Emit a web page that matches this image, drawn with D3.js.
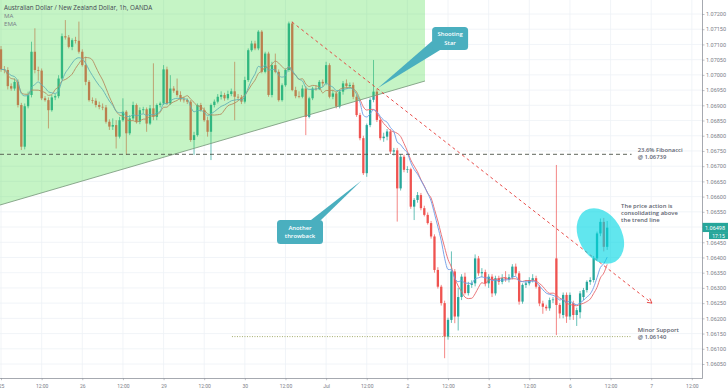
<!DOCTYPE html>
<html><head><meta charset="utf-8">
<script src="https://cdn.jsdelivr.net/npm/d3@7/dist/d3.min.js"></script>
<style>body{margin:0;background:#fff}svg{display:block}</style>
</head><body>
<svg id="c" width="728" height="391"></svg>
<script>
// ---- DATA (AUD/NZD 1h, OANDA) ----
const open = [1.07084,1.07018,1.07016,1.06963,1.06955,1.06977,1.06901,1.06764,1.06897,1.06934,
1.07076,1.07016,1.07014,1.06923,1.06917,1.06884,1.06926,1.06930,1.06988,1.07127,
1.07123,1.07092,1.07114,1.07112,1.07076,1.07032,1.06977,1.06917,1.06915,1.06901,
1.06895,1.06893,1.06846,1.06830,1.06835,1.06797,1.06851,1.06879,1.06808,1.06857,
1.06901,1.06846,1.06884,1.06887,1.06840,1.06890,1.06862,1.06901,1.06906,1.07018,
1.06906,1.06955,1.06948,1.06934,1.06919,1.06917,1.06912,1.06786,1.06802,1.06901,
1.06884,1.06851,1.06813,1.06901,1.06912,1.06928,1.06934,1.06923,1.06937,1.06946,
1.06928,1.06926,1.06912,1.06983,1.07081,1.07103,1.07087,1.07142,1.07010,1.07070,
1.06934,1.07032,1.07010,1.06917,1.06966,1.07016,1.07169,1.06950,1.06930,1.06928,
1.06955,1.06862,1.06923,1.06955,1.06953,1.06977,1.06972,1.07032,1.06928,1.06939,
1.06896,1.06945,1.06972,1.06963,1.06967,1.06928,1.06868,1.06792,1.06677,1.06835,
1.06918,1.06945,1.06852,1.06792,1.06797,1.06814,1.06748,1.06752,1.06627,1.06731,
1.06688,1.06690,1.06567,1.06589,1.06605,1.06562,1.06540,1.06513,1.06469,1.06359,
1.06304,1.06250,1.06140,1.06195,1.06354,1.06206,1.06270,1.06337,1.06283,1.06310,
1.06315,1.06397,1.06348,1.06352,1.06315,1.06337,1.06282,1.06332,1.06320,1.06332,
1.06328,1.06335,1.06370,1.06348,1.06255,1.06310,1.06315,1.06326,1.06332,1.06304,
1.06249,1.06238,1.06233,1.06260,1.06397,1.06244,1.06211,1.06277,1.06206,1.06250,
1.06211,1.06220,1.06270,1.06293,1.06320,1.06326,1.06397,1.06479,1.06517,1.06435];
const high = [1.07095,1.07029,1.07025,1.06972,1.06988,1.06985,1.06908,1.06906,1.06945,1.07109,
1.07153,1.07027,1.07021,1.06930,1.06926,1.06934,1.06937,1.06999,1.07136,1.07180,
1.07131,1.07120,1.07125,1.07175,1.07084,1.07060,1.06983,1.06926,1.06923,1.06912,
1.06906,1.06901,1.06854,1.06857,1.06851,1.06862,1.06923,1.06884,1.06868,1.06912,
1.06906,1.06893,1.06895,1.06893,1.06901,1.07038,1.06906,1.06912,1.07032,1.07027,
1.06999,1.06963,1.06988,1.06946,1.06928,1.06923,1.06917,1.06813,1.06906,1.06908,
1.06893,1.06862,1.06906,1.06919,1.06937,1.06946,1.06941,1.06948,1.06955,1.07043,
1.06937,1.06934,1.06994,1.07087,1.07112,1.07112,1.07147,1.07147,1.07076,1.07076,
1.07043,1.07070,1.07018,1.06972,1.07021,1.07175,1.07175,1.06961,1.06946,1.06966,
1.06963,1.06928,1.06961,1.06966,1.06983,1.06985,1.07043,1.07038,1.06950,1.06945,
1.06950,1.06980,1.06985,1.06975,1.06975,1.06935,1.06875,1.06800,1.06840,1.06925,
1.07049,1.06955,1.06860,1.06810,1.06822,1.06822,1.06760,1.06760,1.06740,1.06738,
1.06700,1.06695,1.06595,1.06615,1.06612,1.06570,1.06548,1.06520,1.06476,1.06368,
1.06310,1.06258,1.06202,1.06420,1.06362,1.06300,1.06345,1.06350,1.06320,1.06325,
1.06410,1.06405,1.06365,1.06360,1.06345,1.06345,1.06340,1.06340,1.06345,1.06355,
1.06345,1.06378,1.06380,1.06355,1.06315,1.06325,1.06335,1.06345,1.06340,1.06310,
1.06258,1.06245,1.06268,1.06270,1.06704,1.06250,1.06285,1.06285,1.06285,1.06258,
1.06235,1.06290,1.06300,1.06325,1.06335,1.06405,1.06485,1.06528,1.06530,1.06520];
const low = [1.07010,1.07005,1.06952,1.06948,1.06948,1.06893,1.06753,1.06755,1.06890,1.06926,
1.07005,1.06981,1.06917,1.06912,1.06824,1.06879,1.06917,1.06923,1.06983,1.07116,
1.07087,1.07081,1.07103,1.07070,1.07027,1.06966,1.06912,1.06906,1.06893,1.06887,
1.06884,1.06840,1.06819,1.06819,1.06758,1.06791,1.06846,1.06737,1.06802,1.06851,
1.06840,1.06838,1.06873,1.06813,1.06835,1.06851,1.06851,1.06893,1.06901,1.06901,
1.06901,1.06941,1.06928,1.06912,1.06909,1.06904,1.06780,1.06737,1.06797,1.06879,
1.06846,1.06797,1.06720,1.06893,1.06906,1.06919,1.06915,1.06917,1.06930,1.06851,
1.06917,1.06904,1.06906,1.06977,1.07076,1.07081,1.07081,1.07005,1.07005,1.06928,
1.06926,1.07005,1.06912,1.06912,1.06961,1.07010,1.06946,1.06923,1.06923,1.06923,
1.06802,1.06857,1.06917,1.06948,1.06950,1.06961,1.06966,1.06923,1.06920,1.06890,
1.06890,1.06935,1.06955,1.06955,1.06920,1.06862,1.06785,1.06671,1.06665,1.06828,
1.06910,1.06845,1.06785,1.06780,1.06785,1.06740,1.06735,1.06518,1.06620,1.06680,
1.06678,1.06560,1.06523,1.06580,1.06555,1.06535,1.06508,1.06462,1.06350,1.06298,
1.06242,1.06069,1.06130,1.06185,1.06184,1.06160,1.06260,1.06278,1.06275,1.06300,
1.06305,1.06340,1.06335,1.06305,1.06300,1.06270,1.06275,1.06310,1.06312,1.06320,
1.06318,1.06328,1.06340,1.06245,1.06248,1.06300,1.06308,1.06318,1.06298,1.06240,
1.06215,1.06225,1.06225,1.06250,1.06145,1.06200,1.06200,1.06185,1.06195,1.06195,
1.06175,1.06200,1.06260,1.06285,1.06310,1.06318,1.06390,1.06470,1.06420,1.06425];
const close = [1.07018,1.07016,1.06963,1.06955,1.06977,1.06901,1.06764,1.06897,1.06934,1.07076,
1.07016,1.07014,1.06923,1.06917,1.06884,1.06926,1.06930,1.06988,1.07127,1.07123,
1.07092,1.07114,1.07112,1.07076,1.07032,1.06977,1.06917,1.06915,1.06901,1.06895,
1.06893,1.06846,1.06830,1.06835,1.06797,1.06851,1.06879,1.06808,1.06857,1.06901,
1.06846,1.06884,1.06887,1.06840,1.06890,1.06862,1.06901,1.06906,1.07018,1.06906,
1.06955,1.06948,1.06934,1.06919,1.06917,1.06912,1.06786,1.06802,1.06901,1.06884,
1.06851,1.06813,1.06901,1.06912,1.06928,1.06934,1.06923,1.06937,1.06946,1.06928,
1.06926,1.06912,1.06983,1.07081,1.07103,1.07087,1.07142,1.07010,1.07070,1.06934,
1.07032,1.07010,1.06917,1.06966,1.07016,1.07169,1.06950,1.06930,1.06928,1.06955,
1.06862,1.06923,1.06955,1.06953,1.06977,1.06972,1.07032,1.06928,1.06939,1.06896,
1.06945,1.06972,1.06963,1.06967,1.06928,1.06868,1.06792,1.06677,1.06835,1.06918,
1.06945,1.06852,1.06792,1.06797,1.06814,1.06748,1.06752,1.06627,1.06731,1.06688,
1.06690,1.06567,1.06589,1.06605,1.06562,1.06540,1.06513,1.06469,1.06359,1.06304,
1.06250,1.06140,1.06195,1.06354,1.06206,1.06270,1.06337,1.06283,1.06310,1.06315,
1.06397,1.06348,1.06352,1.06315,1.06337,1.06282,1.06332,1.06320,1.06332,1.06328,
1.06335,1.06370,1.06348,1.06255,1.06310,1.06315,1.06326,1.06332,1.06304,1.06249,
1.06238,1.06233,1.06260,1.06262,1.06244,1.06216,1.06277,1.06206,1.06277,1.06211,
1.06227,1.06282,1.06293,1.06320,1.06326,1.06397,1.06479,1.06517,1.06435,1.06498];

const timeTickIndex = [0,12,24,36,48,60,72,84,96,108,120,132,144,156,168,180,192,204];
const timeTickLabels = ["25","12:00","26","12:00","29","12:00","30","12:00","Jul","12:00","2","12:00","3","12:00","6","12:00","7","12:00"];
const priceTickLabels = ["1.07200","1.07150","1.07100","1.07050","1.07000","1.06950","1.06900","1.06850","1.06800","1.06750","1.06700","1.06650","1.06600","1.06550","1.06500","1.06450","1.06400","1.06350","1.06300","1.06250","1.06200","1.06150","1.06100","1.06050"];

const fibLevel = 1.06739, supportLevel = 1.06140, lastPrice = 1.06498;
// drawing anchors [candle index, price]
const triangleLeft = [-0.3, 1.065724], triangleRight = [125.2, 1.069799];
const trendStart = [85.9, 1.07174], trendEnd = [192.2, 1.06250];
const fibStart = -0.3, levelEnd = 186.2, supportStart = 68.2, labelAt = 188;
const shootingTip = [111.3, 1.06957], shootingBox = [127.3, 1.071573];
const throwbackTip = [106.4, 1.06652], throwbackBox = [81.5, 1.065231];
const ellipseCenter = [177.0, 1.064706];

// ---- CHART ----
const W = 728, H = 391, PR = 702, PB = 378;
const svg = d3.select("#c");
const x = d3.scaleLinear().domain([-0.3, 207]).range([0, PR]);
const y = d3.scaleLinear().domain([1.0605, 1.0720]).range([364, 14]);
const priceTicks = priceTickLabels.map(Number);

svg.append("rect").attr("width", W).attr("height", H).attr("fill", "#fff");
svg.append("defs").append("clipPath").attr("id", "plot")
  .append("rect").attr("width", PR).attr("height", PB);
const g = svg.append("g").attr("clip-path", "url(#plot)");

// grid
g.selectAll(".vg").data(timeTickIndex).join("line")
  .attr("x1", d => x(d)).attr("x2", d => x(d)).attr("y1", 0).attr("y2", PB)
  .attr("stroke", "#eef1f6").attr("stroke-width", 0.8);
g.selectAll(".hg").data(priceTicks).join("line")
  .attr("x1", 0).attr("x2", PR).attr("y1", d => y(d)).attr("y2", d => y(d))
  .attr("stroke", "#eef1f6").attr("stroke-width", 0.8);

// candles
const idx = d3.range(close.length);
const up = "#26a69a", dn = "#ef5350";
const col = i => close[i] >= open[i] ? up : dn;
g.selectAll(".wick").data(idx).join("line")
  .attr("x1", i => x(i)).attr("x2", i => x(i))
  .attr("y1", i => y(high[i])).attr("y2", i => y(low[i]))
  .attr("stroke", col).attr("stroke-width", 0.7);
const bw = 2.3;
g.selectAll(".body").data(idx).join("rect")
  .attr("x", i => x(i) - bw / 2).attr("width", bw)
  .attr("y", i => y(Math.max(open[i], close[i])))
  .attr("height", i => Math.max(0.7, Math.abs(y(open[i]) - y(close[i]))))
  .attr("fill", col);

// moving averages
const N = 10;
const sma = idx.map(i => d3.mean(close.slice(Math.max(0, i - N + 1), i + 1)));
const k = 2 / (N + 1);
const ema = [];
close.forEach((c, i) => ema.push(i === 0 ? c : c * k + ema[i - 1] * (1 - k)));
const ln = d3.line().x((d, i) => x(i)).y(d => y(d)).curve(d3.curveMonotoneX);
g.append("path").attr("d", ln(sma)).attr("fill", "none").attr("stroke", "#e8676b").attr("stroke-width", 0.9);
g.append("path").attr("d", ln(ema)).attr("fill", "none").attr("stroke", "#6c9be6").attr("stroke-width", 0.9);

// green triangle zone
g.append("path")
  .attr("d", `M${x(triangleLeft[0])},0 L${x(triangleRight[0])},0 L${x(triangleRight[0])},${y(triangleRight[1])} L${x(triangleLeft[0])},${y(triangleLeft[1])}Z`)
  .attr("fill", "rgba(76,220,76,0.32)");
g.append("line")
  .attr("x1", x(triangleLeft[0])).attr("y1", y(triangleLeft[1]))
  .attr("x2", x(triangleRight[0])).attr("y2", y(triangleRight[1]))
  .attr("stroke", "#7f9f82").attr("stroke-width", 0.9);

// fib & support levels
g.append("line").attr("x1", x(fibStart)).attr("x2", x(levelEnd))
  .attr("y1", y(fibLevel)).attr("y2", y(fibLevel))
  .attr("stroke", "#4d5448").attr("stroke-width", 0.9).attr("stroke-dasharray", "4,3");
g.append("line").attr("x1", x(supportStart)).attr("x2", x(levelEnd))
  .attr("y1", y(supportLevel)).attr("y2", y(supportLevel))
  .attr("stroke", "#98a15c").attr("stroke-width", 0.9).attr("stroke-dasharray", "1,1.5");

// trend line with arrow
const tx1 = x(trendStart[0]), ty1 = y(trendStart[1]), tx2 = x(trendEnd[0]), ty2 = y(trendEnd[1]);
g.append("line").attr("x1", tx1).attr("y1", ty1).attr("x2", tx2).attr("y2", ty2)
  .attr("stroke", "#e53935").attr("stroke-width", 0.9).attr("stroke-dasharray", "3,3");
const ang = Math.atan2(ty2 - ty1, tx2 - tx1), al = 5;
g.append("path")
  .attr("d", `M${tx2 - al * Math.cos(ang - 0.5)},${ty2 - al * Math.sin(ang - 0.5)} L${tx2},${ty2} L${tx2 - al * Math.cos(ang + 0.5)},${ty2 - al * Math.sin(ang + 0.5)}`)
  .attr("fill", "none").attr("stroke", "#e53935").attr("stroke-width", 0.9);

// ellipse highlight
const ecx = x(ellipseCenter[0]), ecy = y(ellipseCenter[1]);
g.append("ellipse").attr("cx", ecx).attr("cy", ecy).attr("rx", 29.6).attr("ry", 21.4)
  .attr("transform", `rotate(60 ${ecx} ${ecy})`)
  .attr("fill", "rgba(0,215,228,0.62)");

// callouts
const callColor = "#4aafbf";
function callout(box, tip, w, h, base, lines) {
  const bx = x(box[0]), by = y(box[1]);
  const px = x(tip[0]), py = y(tip[1]);
  g.append("path").attr("d", `M${bx + base[0]},${by + base[1]} L${px},${py} L${bx + base[2]},${by + base[3]}Z`)
    .attr("fill", callColor);
  g.append("rect").attr("x", bx).attr("y", by).attr("width", w).attr("height", h).attr("rx", 3.5)
    .attr("fill", callColor);
  lines.forEach((t, i) => g.append("text").attr("x", bx + w / 2).attr("y", by + h / 2 - 2 + i * 8.2)
    .attr("text-anchor", "middle").attr("fill", "#fff")
    .attr("font-family", "Open Sans, sans-serif").attr("font-size", 5.9).attr("font-weight", 600)
    .text(t));
}
callout(shootingBox, shootingTip, 36, 23, [0, 14, 8, 23], ["Shooting", "Star"]);
callout(throwbackBox, throwbackTip, 46, 24, [34, 0, 44, 0], ["Another", "throwback"]);

// annotation texts
const noteFont = { "font-family": "Open Sans, sans-serif", "font-size": 5.9, "font-weight": 600, "fill": "#5d6470" };
function note(xx, yy, t) {
  const s = g.append("text").attr("x", xx).attr("y", yy).text(t);
  Object.entries(noteFont).forEach(([a, v]) => s.attr(a, v));
}
note(x(labelAt), y(fibLevel) - 2.6, "23.6% Fibonacci");
note(x(labelAt), y(fibLevel) + 5.0, "@ 1.06739");
note(x(labelAt), y(supportLevel) - 4.5, "Minor Support");
note(x(labelAt), y(supportLevel) + 2.8, "@ 1.06140");
note(x(183.1), 207.6, "The price action is");
note(x(183.1), 214.8, "consolidating above");
note(x(183.1), 222.0, "the trend line");

// title / legend
svg.append("text").attr("x", 4).attr("y", 9.8).attr("font-family", "Open Sans, sans-serif")
  .attr("font-size", 6.3).attr("fill", "#434651").text("Australian Dollar / New Zealand Dollar, 1h, OANDA");
svg.append("text").attr("x", 4).attr("y", 17.5).attr("font-family", "Open Sans, sans-serif")
  .attr("font-size", 6.1).attr("fill", "#787b86").text("MA");
svg.append("text").attr("x", 4).attr("y", 25.5).attr("font-family", "Open Sans, sans-serif")
  .attr("font-size", 6.1).attr("fill", "#787b86").text("EMA");

// axes
const ya = svg.append("g").attr("transform", `translate(${PR},0)`)
  .call(d3.axisRight(y).tickValues(priceTicks).tickFormat((d, i) => priceTickLabels[i]).tickSize(2.5).tickPadding(1.5));
ya.select(".domain").remove();
ya.selectAll("line").attr("stroke", "#9598a1").attr("stroke-width", 0.6);
ya.selectAll("text").attr("font-family", "Roboto, sans-serif").attr("font-size", 5.5).attr("fill", "#7b7e87");
const xa = svg.append("g").attr("transform", `translate(0,${PB})`)
  .call(d3.axisBottom(x).tickValues(timeTickIndex).tickFormat((d, i) => timeTickLabels[i]).tickSize(2.2).tickPadding(3.8));
xa.select(".domain").remove();
xa.selectAll("line").attr("stroke", "#9598a1").attr("stroke-width", 0.6);
xa.selectAll("text").attr("font-family", "Roboto, sans-serif").attr("font-size", 5).attr("fill", "#7b7e87");
svg.append("line").attr("x1", PR + 0.5).attr("x2", PR + 0.5).attr("y1", 0).attr("y2", PB + 0.5)
  .attr("stroke", "#8f939c").attr("stroke-width", 0.8);
svg.append("line").attr("x1", 0).attr("x2", PR + 0.5).attr("y1", PB + 0.5).attr("y2", PB + 0.5)
  .attr("stroke", "#8f939c").attr("stroke-width", 0.8);

// last price label
const ly = y(lastPrice);
svg.append("rect").attr("x", PR + 0.5).attr("y", ly - 4.8).attr("width", W - PR).attr("height", 9.2).attr("fill", up);
svg.append("text").attr("x", PR + 3).attr("y", ly + 2).attr("font-family", "Roboto, sans-serif")
  .attr("font-size", 5.5).attr("fill", "#fff").text(lastPrice.toFixed(5));
svg.append("rect").attr("x", PR + 7).attr("y", ly + 4.4).attr("width", W - PR - 7).attr("height", 7).attr("fill", up);
svg.append("text").attr("x", PR + 16.5).attr("y", ly + 9.9).attr("text-anchor", "middle").attr("font-family", "Roboto, sans-serif")
  .attr("font-size", 5).attr("fill", "#fff").text("17:15");
</script>
</body></html>
